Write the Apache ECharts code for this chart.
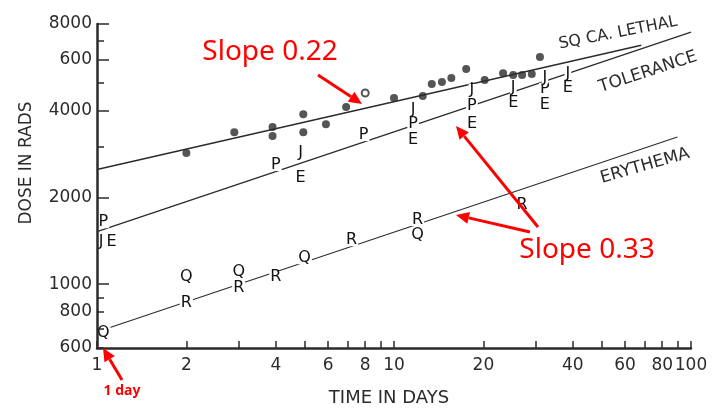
<!DOCTYPE html>
<html>
<head>
<meta charset="utf-8">
<script src="https://cdn.jsdelivr.net/npm/echarts@6/dist/echarts.min.js"></script>
<style>
html, body { margin: 0; padding: 0; background: #fff; }
#chart { width: 714px; height: 411px; }
</style>
</head>
<body>
<div id="chart"></div>
<script>
// tick positions and labels
var xTicks = [1, 2, 3, 4, 5, 6, 7, 8, 9, 10, 20, 30, 40, 50, 60, 70, 80, 90, 100];
var xLabels = [1, 2, 4, 6, 8, 10, 20, 40, 60, 80, 100];
var yMajorTicks = [1000, 2000, 4000, 6000, 8000];
var yMinorTicks = [600, 700, 800, 900, 3000, 5000, 7000];
var yLabelValues = [600, 800, 1000, 2000, 4000, 6000, 8000];
var yLabelTexts = ['600', '800', '1000', '2000', '4000', '600', '8000'];

// fitted lines (end points: days, rads)
var lethalLine = [[1, 2500], [68, 6750]];
var toleranceLine = [[1, 1520], [100, 7500]];
var erythemaLine = [[1.1, 705], [90, 3240]];

// sq. ca. lethal doses
var lethalDots = [[2, 2850], [2.9, 3370], [3.9, 3510], [3.9, 3270], [4.95, 3890], [4.95, 3370],
    [5.9, 3590], [6.9, 4120], [10, 4430], [12.5, 4500], [13.4, 4950], [14.5, 5030], [15.6, 5200],
    [17.5, 5580], [20.2, 5110], [23.3, 5400], [25.2, 5320], [27, 5320], [29.1, 5360], [31, 6150]];
var lethalOpen = [[8, 4610]];

// letter points
var pPoints = [[1.05, 1640], [4, 2590], [7.9, 3290], [11.6, 3600], [18.3, 4150], [32.2, 4760]];
var jPoints = [[1.032, 1400], [4.85, 2850], [11.6, 4020], [18.3, 4720], [25.2, 4800], [32.2, 5200], [38.5, 5370]];
var ePoints = [[1.12, 1400], [4.85, 2340], [11.6, 3170], [18.3, 3600], [25.2, 4250], [32.2, 4190], [38.5, 4800]];
var qPoints = [[1.05, 676], [2, 1058], [3, 1100], [5, 1230], [12, 1480]];
var rPoints = [[2, 860], [3, 970], [4, 1058], [7.2, 1420], [12, 1670], [27, 1880]];

var ink = '#2b2b2b';
var font = 'DejaVu Sans';

function letterSeries(name, data) {
    return {
        name: name,
        type: 'scatter',
        data: data,
        symbolSize: 1,
        itemStyle: {color: ink, opacity: 0},
        z: 3,
        label: {
            show: true,
            position: 'inside',
            formatter: name,
            fontFamily: font,
            fontSize: 16,
            color: '#111',
            opacity: 1,
            backgroundColor: '#fff',
            lineHeight: 12,
            padding: [0, 1]
        }
    };
}

function lineSeries(data, width) {
    return {
        type: 'line',
        data: data,
        symbol: 'none',
        z: 2,
        lineStyle: {color: ink, width: width}
    };
}

function yLabel(v) {
    for (var i = 0; i < yLabelValues.length; i++) {
        if (Math.abs(yLabelValues[i] - v) < 1) return yLabelTexts[i];
    }
    return '';
}

// arrow: shaft + head
function arrow(x1, y1, x2, y2) {
    var dx = x2 - x1, dy = y2 - y1;
    var len = Math.sqrt(dx * dx + dy * dy);
    var ux = dx / len, uy = dy / len;
    var bx = x2 - ux * 13, by = y2 - uy * 13;
    return [
        {type: 'line', shape: {x1: x1, y1: y1, x2: bx, y2: by}, style: {stroke: '#f00', lineWidth: 3}, z: 20},
        {type: 'polygon', shape: {points: [[x2, y2], [bx - uy * 6, by + ux * 6], [bx + uy * 6, by - ux * 6]]},
            style: {fill: '#f00'}, z: 20}
    ];
}

var chart = echarts.init(document.getElementById('chart'));

var axisText = {fontFamily: font, fontSize: 17, color: ink};

var option = {
    backgroundColor: '#fff',
    animation: false,
    grid: {left: 97, right: 23, top: 24, bottom: 63},
    xAxis: {
        type: 'log',
        logBase: 10,
        min: 1,
        max: 100,
        z: 10,
        axisLine: {lineStyle: {color: ink, width: 2.5}},
        axisTick: {inside: true, length: 7, customValues: xTicks, lineStyle: {color: ink, width: 1.5}},
        axisLabel: Object.assign({customValues: xLabels, margin: 9}, axisText),
        splitLine: {show: false},
        minorTick: {show: false}
    },
    yAxis: [{
        type: 'log',
        logBase: 10,
        min: 600,
        max: 8000,
        z: 10,
        axisLine: {lineStyle: {color: ink, width: 2.5}},
        axisTick: {inside: true, length: 12, customValues: yMajorTicks, lineStyle: {color: ink, width: 1.5}},
        axisLabel: Object.assign({customValues: yLabelValues, margin: 5, formatter: yLabel}, axisText),
        splitLine: {show: false}
    }, {
        type: 'log',
        logBase: 10,
        min: 600,
        max: 8000,
        position: 'left',
        z: 10,
        axisLine: {show: false},
        axisTick: {inside: true, length: 7, customValues: yMinorTicks, lineStyle: {color: ink, width: 1.5}},
        axisLabel: {show: false},
        splitLine: {show: false}
    }],
    series: [
        lineSeries(lethalLine, 1.4),
        lineSeries(toleranceLine, 1.3),
        lineSeries(erythemaLine, 1.1),
        {
            type: 'scatter',
            data: lethalDots,
            symbolSize: 8,
            z: 4,
            itemStyle: {color: ink}
        },
        {
            type: 'scatter',
            data: lethalOpen,
            symbol: 'emptyCircle',
            symbolSize: 7,
            z: 25,
            itemStyle: {color: ink, borderWidth: 1.8}
        },
        letterSeries('P', pPoints),
        letterSeries('J', jPoints),
        letterSeries('E', ePoints),
        letterSeries('Q', qPoints),
        letterSeries('R', rPoints)
    ],
    graphic: [
        {type: 'text', x: 27, y: 163, rotation: Math.PI / 2,
            style: {text: 'DOSE IN RADS', font: '17px "DejaVu Sans"', fill: ink, align: 'center', verticalAlign: 'middle'}},
        {type: 'text', x: 389, y: 398,
            style: {text: 'TIME IN DAYS', font: '18px "DejaVu Sans"', fill: ink, align: 'center', verticalAlign: 'middle'}},
        {type: 'text', x: 618, y: 33, rotation: 11 * Math.PI / 180,
            style: {text: 'SQ CA. LETHAL', font: '16px "DejaVu Sans"', fill: ink, align: 'center', verticalAlign: 'middle'}},
        {type: 'text', x: 648, y: 72, rotation: 18 * Math.PI / 180,
            style: {text: 'TOLERANCE', font: '17px "DejaVu Sans"', fill: ink, align: 'center', verticalAlign: 'middle'}},
        {type: 'text', x: 645, y: 166, rotation: 16 * Math.PI / 180,
            style: {text: 'ERYTHEMA', font: '17px "DejaVu Sans"', fill: ink, align: 'center', verticalAlign: 'middle'}},
        {type: 'text', x: 270, y: 52, z: 20,
            style: {text: 'Slope 0.22', font: '28px "Noto Sans"', fill: '#f00', align: 'center', verticalAlign: 'middle'}},
        {type: 'text', x: 587, y: 250, z: 20,
            style: {text: 'Slope 0.33', font: '28px "Noto Sans"', fill: '#f00', align: 'center', verticalAlign: 'middle'}},
        {type: 'text', x: 122, y: 391, z: 20,
            style: {text: '1 day', font: 'bold 14px "Noto Sans"', fill: '#f00', align: 'center', verticalAlign: 'middle'}}
    ]
        .concat(arrow(318, 75, 362, 104))
        .concat(arrow(538, 227, 456, 126))
        .concat(arrow(530, 232, 456, 215))
        .concat(arrow(122, 380, 103, 348))
};

chart.setOption(option);
</script>
</body>
</html>
